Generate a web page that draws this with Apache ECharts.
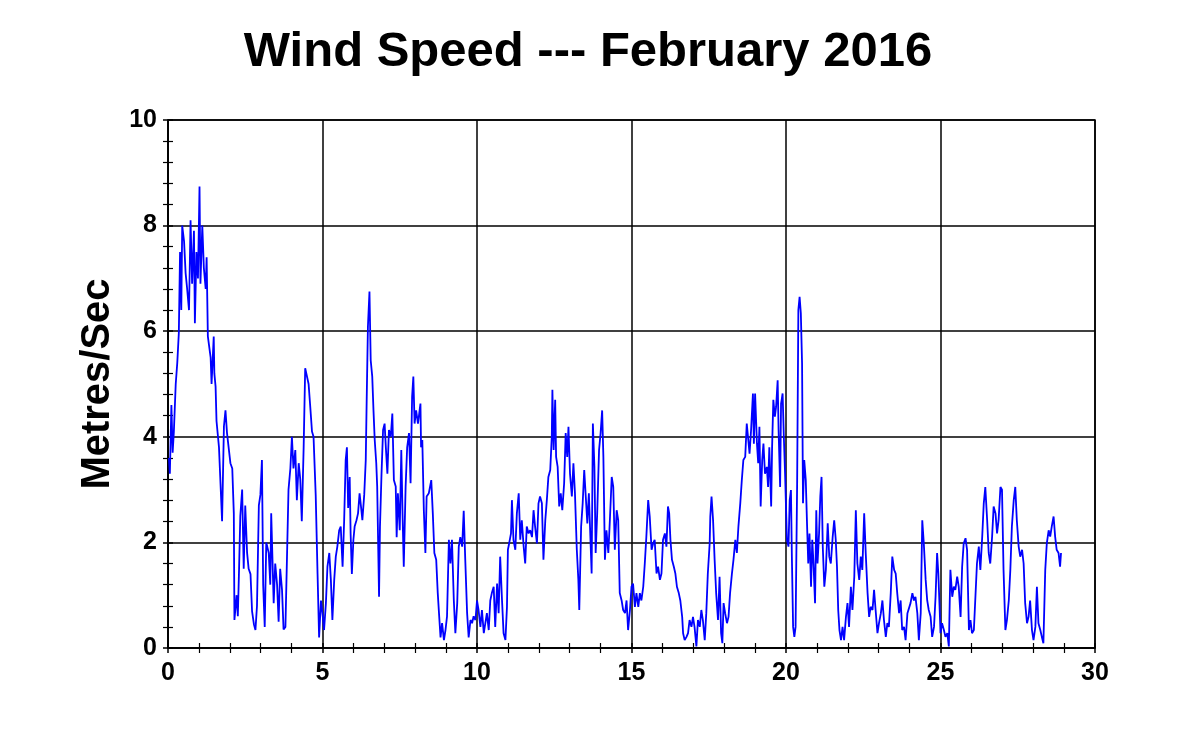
<!DOCTYPE html>
<html>
<head>
<meta charset="utf-8">
<script src="https://cdn.jsdelivr.net/npm/echarts@6/dist/echarts.min.js"></script>
<style>
html,body{margin:0;padding:0;background:#fff;}
#chart{width:1191px;height:729px;}
</style>
</head>
<body>
<div id="chart"></div>
<script>
const titleText = "Wind Speed --- February 2016";
const yName = "Metres/Sec";

const days = [
0.03,0.06,0.11,0.15,0.19,0.25,0.30,0.35,0.39,0.43,0.46,0.52,0.57,0.62,0.68,0.73,0.78,0.84,0.87,0.92,0.97,
1.02,1.05,1.11,1.16,1.22,1.25,1.29,1.38,1.41,1.48,1.50,1.54,1.57,1.65,1.70,1.75,1.81,1.86,1.91,1.97,
2.02,2.08,2.13,2.15,2.22,2.26,2.30,2.34,2.40,2.45,2.50,2.56,2.61,2.67,2.72,2.78,2.83,2.88,2.94,2.99,
3.04,3.08,3.13,3.18,3.26,3.31,3.34,3.42,3.47,3.53,3.58,3.63,3.69,3.74,3.80,3.85,3.90,3.96,
4.01,4.06,4.12,4.17,4.23,4.28,4.33,4.39,4.44,4.49,4.55,4.60,4.66,4.71,
4.78,4.84,4.89,4.95,5.00,5.05,5.11,5.16,5.22,5.27,5.32,5.38,5.43,5.48,5.54,5.59,5.65,5.70,5.75,5.79,
5.83,5.88,5.91,5.95,6.00,6.04,6.10,6.15,6.20,6.26,6.29,6.35,6.40,6.43,6.47,6.52,6.56,6.61,6.65,6.69,
6.74,6.77,6.83,6.86,6.91,6.96,7.01,7.05,7.10,7.15,7.21,7.26,7.31,7.37,7.40,7.44,7.50,7.55,7.59,7.63,
7.69,7.74,7.80,7.85,7.90,7.94,7.98,8.03,8.09,8.13,8.17,8.19,8.23,8.28,8.33,8.37,8.44,8.52,8.57,8.62,
8.68,8.73,8.77,8.82,8.87,8.93,8.98,9.03,9.09,9.14,9.19,9.25,9.30,9.36,9.41,9.46,9.52,9.57,9.62,9.68,
9.73,9.79,
9.84,9.89,9.95,10.00,10.05,10.11,10.16,10.22,10.27,10.32,10.38,10.43,10.48,10.54,10.59,10.65,10.70,
10.75,10.81,10.86,10.92,10.97,11.00,11.04,11.10,11.13,11.18,11.24,11.29,11.35,11.40,11.45,11.51,11.56,
11.61,11.67,11.72,11.78,11.83,11.88,11.94,11.99,12.04,12.10,12.15,12.21,12.26,12.31,12.37,12.42,12.44,
12.48,12.53,12.56,12.61,12.66,12.71,12.76,12.82,12.87,12.92,12.96,13.01,13.07,13.12,13.17,13.23,13.28,
13.31,13.37,13.42,13.47,13.52,13.57,13.62,13.68,13.71,13.75,13.80,13.84,13.89,13.95,14.00,14.05,14.09,
14.14,14.19,14.25,14.30,14.36,14.41,14.46,14.52,14.57,14.62,14.68,14.73,
14.79,14.84,14.89,14.95,15.00,15.05,15.11,15.16,15.22,15.27,15.32,15.38,15.43,15.48,15.54,15.59,15.65,
15.70,15.75,15.81,15.86,15.92,15.97,16.02,16.08,16.13,16.18,16.22,16.26,16.31,16.37,16.42,16.47,16.53,
16.58,16.64,16.67,16.72,16.78,16.83,16.88,16.94,16.99,17.04,17.10,17.15,17.21,17.26,17.31,17.37,17.42,
17.47,17.53,17.55,17.59,17.64,17.69,17.74,17.80,17.85,17.90,17.94,17.98,18.03,18.09,18.14,18.19,18.25,
18.30,18.36,18.41,18.46,18.52,18.57,18.62,18.68,18.73,18.78,18.82,18.87,18.93,18.96,19.00,19.06,19.10,
19.14,19.18,19.23,19.27,19.32,19.38,19.42,19.46,19.52,19.55,19.59,19.64,19.68,19.73,19.76,19.81,19.84,
19.86,19.89,19.93,19.97,20.03,20.08,20.12,20.16,20.19,20.23,20.27,20.31,20.36,20.40,20.44,20.48,20.52,
20.55,20.59,20.64,20.68,20.72,20.76,20.81,20.85,20.89,20.94,20.98,21.02,21.07,21.11,21.15,21.19,21.24,
21.29,21.35,21.40,21.45,21.51,21.56,21.61,21.65,21.69,21.73,21.78,21.83,21.88,21.94,21.99,22.04,22.10,
22.15,22.21,22.26,22.31,22.37,22.42,22.47,22.53,22.58,22.64,22.69,22.74,22.80,22.85,22.90,22.96,23.01,
23.07,23.12,23.17,23.23,23.28,23.33,23.39,23.44,23.50,23.55,23.60,23.66,23.71,23.76,23.82,23.87,23.93,
23.98,24.03,24.09,24.14,24.19,24.25,24.30,24.36,24.41,24.46,24.52,24.57,24.62,24.68,24.73,24.79,
24.84,24.89,24.93,24.97,25.00,25.05,25.11,25.16,25.22,25.27,25.32,25.38,25.43,25.48,25.54,25.59,25.65,
25.70,25.75,25.81,25.86,25.92,25.97,26.02,26.08,26.13,26.18,26.24,26.29,26.35,26.40,26.45,26.51,26.56,
26.61,26.67,26.72,26.78,26.83,26.88,26.94,26.99,27.04,27.10,27.15,27.21,27.26,27.31,27.37,27.42,27.47,
27.53,27.58,27.64,27.69,27.74,27.80,27.85,27.90,27.96,28.01,28.07,28.12,28.17,28.23,28.28,28.33,28.39,
28.44,28.50,28.55,28.60,28.66,28.71,28.76,28.82,28.87,28.90
];

const speeds = [
3.6,3.3,4.6,3.7,4.1,5.0,5.4,5.96,7.5,6.4,8.0,7.7,7.1,6.8,6.4,8.1,6.9,7.9,6.15,7.5,7.0,
8.74,6.9,8.0,7.2,6.8,7.4,5.9,5.5,5.0,5.9,5.2,4.95,4.3,3.8,3.1,2.4,4.2,4.5,4.07,4.1,
3.5,3.4,2.55,0.53,1.0,0.6,1.5,2.5,3.0,1.5,2.7,1.8,1.5,1.4,0.7,0.45,0.34,0.8,2.7,2.9,
3.56,1.2,0.4,2.0,1.8,1.2,2.55,0.85,1.6,1.2,0.5,1.5,1.1,0.35,0.4,1.7,3.0,3.4,
4.0,3.4,3.75,2.8,3.5,3.2,2.4,3.8,5.3,5.3,5.0,4.6,4.1,4.0,
2.9,1.4,0.2,0.9,0.65,0.34,0.85,1.54,1.8,1.3,0.53,1.3,1.73,1.92,2.23,2.3,1.54,2.4,3.56,3.8,
2.65,3.24,2.17,1.4,2.05,2.3,2.42,2.55,2.93,2.6,2.42,2.9,3.56,4.7,6.09,6.75,5.45,5.14,4.5,3.94,
3.5,3.06,0.97,2.3,3.3,4.13,4.25,3.8,3.3,4.13,4.0,4.44,3.18,3.06,2.1,2.93,2.23,3.75,2.55,1.54,
3.06,3.8,4.07,3.12,4.76,5.14,4.25,4.5,4.25,4.44,4.63,3.8,3.94,2.6,1.8,2.87,2.93,3.18,2.55,1.8,
1.67,1.04,0.66,0.2,0.47,0.15,0.34,0.6,2.05,1.6,2.05,0.9,0.28,0.85,1.92,2.1,1.92,2.6,1.67,0.66,
0.2,0.53,
0.47,0.6,0.53,0.9,0.72,0.4,0.72,0.28,0.47,0.66,0.34,0.9,1.04,1.16,0.4,1.22,0.66,
1.73,0.9,0.28,0.15,0.78,1.86,1.98,2.17,2.8,2.05,1.86,2.55,2.93,2.05,2.42,1.92,1.6,
2.3,2.17,2.23,2.1,2.61,2.3,1.98,2.74,2.87,2.74,1.67,2.42,2.8,3.24,3.37,4.0,4.89,
3.75,4.7,3.62,3.43,2.68,2.93,2.61,3.12,4.07,3.62,4.19,3.3,2.87,3.5,2.93,1.86,1.29,
0.72,2.3,2.74,3.37,2.87,2.36,2.93,1.92,1.41,4.25,3.43,1.8,2.55,3.75,4.07,4.5,3.62,
1.67,2.23,1.8,2.42,3.24,3.05,1.86,2.61,2.42,1.04,0.9,0.72,
0.66,0.9,0.34,0.72,1.16,1.22,0.78,1.04,0.78,1.04,0.9,1.16,1.6,2.1,2.8,2.49,1.86,
1.98,2.05,1.41,1.54,1.29,1.41,2.05,2.17,1.92,2.68,2.55,2.05,1.67,1.54,1.41,1.16,1.04,
0.9,0.59,0.28,0.15,0.21,0.28,0.53,0.4,0.59,0.4,0.03,0.53,0.4,0.72,0.53,0.15,0.66,
1.41,1.98,2.49,2.87,2.42,1.67,1.04,0.53,1.35,0.28,0.09,0.85,0.66,0.47,0.59,1.04,1.41,
1.67,2.05,1.8,2.3,2.74,3.18,3.56,3.62,4.25,3.94,3.68,4.13,4.82,3.87,4.82,3.87,3.5,
4.19,2.68,3.56,3.87,3.3,3.43,3.05,3.8,2.68,3.8,4.7,4.38,4.57,5.07,4.13,3.05,4.63,
4.7,4.82,4.0,3.3,2.05,1.92,2.8,2.99,1.73,0.4,0.21,0.4,3.1,6.4,6.65,6.34,5.39,
2.74,3.56,3.18,2.36,1.6,2.17,1.16,2.05,1.6,0.85,2.61,1.6,2.17,2.87,3.24,1.92,1.16,
1.48,2.36,1.73,1.6,2.1,2.42,2.05,1.54,0.72,0.34,0.15,0.4,0.15,0.59,0.85,0.4,1.16,
0.72,1.35,2.61,1.6,1.29,1.73,1.48,2.55,1.8,1.04,0.59,0.78,0.72,1.1,0.72,0.28,0.47,
0.66,0.9,0.53,0.21,0.47,0.4,1.04,1.73,1.48,1.41,1.04,0.66,0.9,0.34,0.4,0.15,0.66,
0.66,0.85,1.04,0.9,0.97,0.66,0.15,0.66,2.42,1.98,1.29,0.9,0.72,0.59,0.21,0.4,
0.97,1.8,1.41,0.78,0.28,0.47,0.34,0.21,0.28,0.03,1.48,0.97,1.16,1.1,1.35,1.16,0.59,
1.54,1.98,2.08,1.86,0.34,0.53,0.28,0.34,0.97,1.6,1.92,1.48,2.11,2.74,3.05,2.42,1.8,
1.6,2.11,2.68,2.55,2.17,2.42,3.05,3.0,1.48,0.34,0.53,0.9,1.48,2.3,2.8,3.05,2.42,
1.92,1.73,1.86,1.6,0.85,0.47,0.59,0.9,0.34,0.15,0.4,1.16,0.47,0.34,0.21,0.09,1.48,
1.98,2.23,2.11,2.3,2.49,2.11,1.86,1.8,1.54,1.8
];

const xMin = 0, xMax = 30, xStep = 5;
const yMin = 0, yMax = 10, yStep = 2;

const seriesData = days.map((d, i) => [d, speeds[i]]);

const FONT = "'Liberation Sans', Arial, sans-serif";
const black = '#000000';

const chart = echarts.init(document.getElementById('chart'), null, {renderer: 'canvas'});

function baseAxis(min, max, interval, show) {
  return {
    type: 'value', min: min, max: max, interval: interval,
    axisLine: {show: show, lineStyle: {color: black, width: 1.5}},
    axisTick: {show: true, inside: !show, length: 5, lineStyle: {color: black, width: 1.5}},
    minorTick: {show: true, splitNumber: 5, length: 5, lineStyle: {color: black, width: 1.2}},
    splitLine: {show: show, lineStyle: {color: black, width: 1.5}},
    minorSplitLine: {show: false},
    axisLabel: {show: show, color: black, fontFamily: FONT, fontWeight: 'bold', fontSize: 25, margin: 11}
  };
}

const xa0 = baseAxis(xMin, xMax, xStep, true);
xa0.position = 'bottom';
xa0.axisLabel.margin = 13;
const xa1 = baseAxis(xMin, xMax, xStep, false);
xa1.position = 'bottom';
xa1.offset = 0;

const ya0 = baseAxis(yMin, yMax, yStep, true);
ya0.position = 'left';
ya0.name = yName;
ya0.nameLocation = 'middle';
ya0.nameRotate = 90;
ya0.nameGap = 44;
ya0.nameTextStyle = {color: black, fontFamily: FONT, fontWeight: 'bold', fontSize: 40};
const ya1 = baseAxis(yMin, yMax, yStep, false);
ya1.position = 'left';
ya1.offset = 0;

chart.setOption({
  animation: false,
  backgroundColor: '#ffffff',
  title: {
    text: titleText,
    left: 583, top: 23, textAlign: 'center',
    textStyle: {color: black, fontFamily: FONT, fontWeight: 'bold', fontSize: 49}
  },
  grid: {left: 168, right: 96, top: 120, bottom: 81, show: true, borderColor: black, borderWidth: 1.5, backgroundColor: 'transparent'},
  xAxis: [xa0, xa1],
  yAxis: [ya0, ya1],
  series: [{
    type: 'line',
    data: seriesData,
    xAxisIndex: 0, yAxisIndex: 0,
    showSymbol: false,
    lineStyle: {color: '#0000ff', width: 1.8},
    z: 3
  }]
});
</script>
</body>
</html>
